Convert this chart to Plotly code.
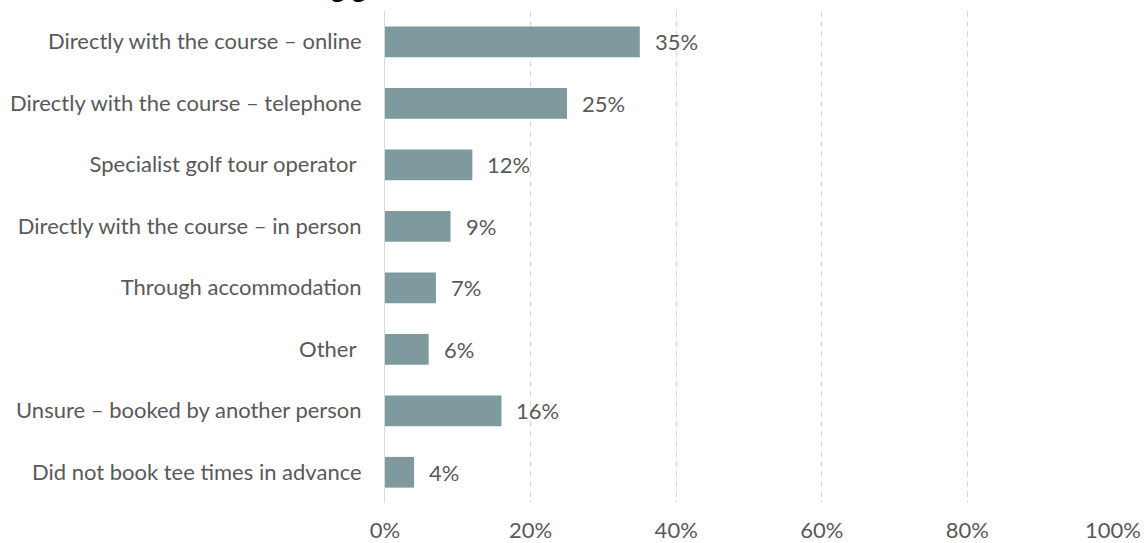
import plotly.graph_objects as go

# Booking channels, top to bottom as shown
channels = [
    "Directly with the course – online",
    "Directly with the course – telephone",
    "Specialist golf tour operator\u00a0",
    "Directly with the course – in person",
    "Through accommodation",
    "Other\u00a0",
    "Unsure – booked by another person",
    "Did not book tee times in advance",
]
shares = [35, 25, 12, 9, 7, 6, 16, 4]
tick_vals = [0, 20, 40, 60, 80, 100]
tick_text = ["0%", "20%", "40%", "60%", "80%", "100%"]

bar_colour = "#7f9a9e"
text_colour = "#595959"
font_family = "Lato"
font_size = 22

fig = go.Figure()

fig.add_trace(
    go.Bar(
        x=shares,
        y=channels,
        orientation="h",
        marker=dict(color=bar_colour, line=dict(width=0)),
        hovertemplate="%{y}: %{x}%<extra></extra>",
    ))

# Data labels just to the right of each bar
for ch, val in zip(channels, shares):
    fig.add_annotation(
        x=val, y=ch, text=f"{val}%",
        xanchor="left", xshift=13, showarrow=False,
        font=dict(size=font_size, color=text_colour, family=font_family),
    )

# Title, mostly cut off above the visible area in the original
fig.add_annotation(
    x=0.02, xref="paper", y=1.0, yref="paper", yshift=5,
    text="<b>Method of booking golf</b>", xanchor="right", yanchor="bottom",
    showarrow=False,
    font=dict(size=27, color="#000000", family=font_family),
)

fig.update_layout(
    width=1144,
    height=543,
    paper_bgcolor="white",
    plot_bgcolor="white",
    margin=dict(l=385, r=31, t=11, b=40, autoexpand=False),
    bargap=0.5,
    showlegend=False,
    font=dict(family=font_family, size=font_size, color=text_colour),
    xaxis=dict(
        range=[0, 100],
        tickvals=tick_vals,
        ticktext=tick_text,
        showgrid=True,
        gridcolor="#d9d9d9",
        griddash="6px,4px",
        gridwidth=1,
        zeroline=False,
        showline=False,
        automargin=False,
        ticklabelstandoff=12,
        tickfont=dict(size=font_size, color=text_colour),
    ),
    yaxis=dict(
        autorange="reversed",
        showgrid=False,
        showline=True,
        linecolor="#d9d9d9",
        linewidth=1,
        automargin=False,
        ticklabelstandoff=18,
        tickfont=dict(size=font_size, color=text_colour),
    ),
)

# drop the default page margin so the figure sits at the window corner
fig.write_html("out.html", config={"displayModeBar": False},
               post_script="document.body.style.margin='0';")
